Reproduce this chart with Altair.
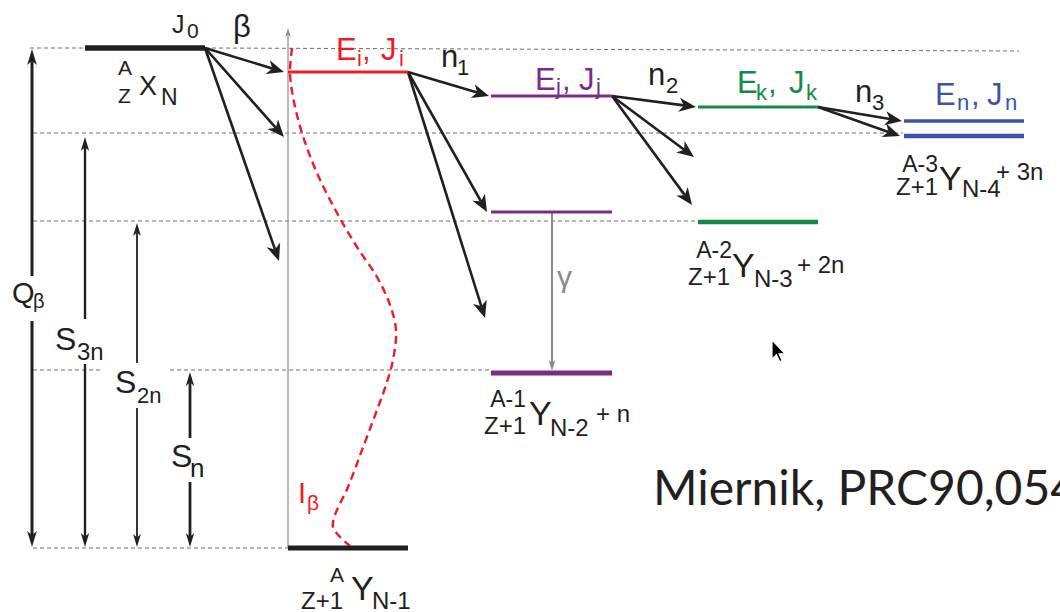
import math

import altair as alt
import pandas as pd

# ---------------------------------------------------------------------------
# Energies in arbitrary units (ground state of the beta daughter = 0)
# ---------------------------------------------------------------------------
Q_BETA = 500
S_3N = 415
S_2N = 327
S_N = 178

level_names = ["parent", "Ei", "Ej", "Ej_low", "gs_A-1", "Ek", "gs_A-2", "En", "gs_A-3", "gs_A"]
level_energies = [500, 476, 452, 336, 175, 441, 326, 427, 412, 0]
level_columns = ["X", "A", "A-1", "A-1", "A-1", "A-2", "A-2", "A-3", "A-3", "A"]

# end points of the beta branches and of the three neutron steps
beta_targets = [476, 411, 287]
n1_targets = [452, 336, 230]
n2_targets = [441, 391, 343]
n3_targets = [427, 412]
gamma_from, gamma_to = 336, 177

# beta strength distribution I_beta(E), drawn to the right of the energy axis
ib_energy = [500, 476, 451, 415, 375, 335, 301, 271, 243, 218, 188, 163, 138, 98, 61, 33, 21, 11, 2]
ib_strength = [4, 2, 5, 14, 29, 49, 69, 89, 102, 108, 105, 98, 89, 74, 60, 47, 45, 52, 62]

# ---------------------------------------------------------------------------
# Layout and style
# ---------------------------------------------------------------------------
W, H = 1060, 612
E_TOP = 548                      # energy shown at the top edge of the canvas
COLUMNS = {"X": (85, 205), "A": (288, 408), "A-1": (491, 612),
           "A-2": (698, 818), "A-3": (904, 1024)}
AXIS_X = 288

BLACK = "#231f20"
RED = "#ed1c24"
PURPLE = "#7b2c84"
GREEN = "#138a48"
BLUE = "#3b54a5"
GRAY = "#8a8a8a"
DASH_GRAY = "#6d6e71"

LEVEL_STYLE = {
    "parent": (BLACK, 5.5), "Ei": (RED, 3), "Ej": (PURPLE, 3), "Ej_low": (PURPLE, 3),
    "gs_A-1": (PURPLE, 5), "Ek": (GREEN, 3), "gs_A-2": (GREEN, 4.5),
    "En": (BLUE, 3.5), "gs_A-3": (BLUE, 4.5), "gs_A": (BLACK, 5),
}

DIAGRAM_FONT = "Liberation Sans, Arial, sans-serif"
CITE_FONT = "Lato, Open Sans, sans-serif"

# notched arrow heads, tip at the symbol origin, pointing up
HEAD_WIDE = "M0,0 L0.42,1 L0,0.72 L-0.42,1 Z"
HEAD_NARROW = "M0,0 L0.3,1 L0,0.74 L-0.3,1 Z"
CURSOR = "M0,0 L0,1.15 L0.27,0.89 L0.47,1.32 L0.62,1.25 L0.43,0.84 L0.8,0.84 Z"


def page_to_energy(y):
    return E_TOP - y


def arrow(x0, e0, x1, e1, color, width, head_len):
    """Shaft (shortened to the head notch) and head of one arrow."""
    dx, de = x1 - x0, e1 - e0
    length = math.hypot(dx, de)
    ux, ue = dx / length, de / length
    back = 0.72 * head_len
    shaft = dict(x=x0, x2=x1 - ux * back, E=e0, E2=e1 - ue * back, c=color, w=width)
    head = dict(x=x1, E=e1, ang=math.degrees(math.atan2(dx, de)) % 360,
                s=(2 * head_len) ** 2, c=color)
    return shaft, head


shafts, wide_heads, narrow_heads = [], [], []


def add_arrow(x0, e0, x1, e1, color=BLACK, width=2.6, head_len=17, wide=True):
    shaft, head = arrow(x0, e0, x1, e1, color, width, head_len)
    shafts.append(shaft)
    (wide_heads if wide else narrow_heads).append(head)


# beta branches from the parent level
px = COLUMNS["X"][1]
for i, e in enumerate(beta_targets):
    add_arrow(px, 500, COLUMNS["A"][0] - (4 if i < 2 else 9), e)

# neutron emission steps
for start_col, start_e, end_col, targets in [
    ("A", 476, "A-1", n1_targets),
    ("A-1", 452, "A-2", n2_targets),
    ("A-2", 441, "A-3", n3_targets),
]:
    x_start = COLUMNS[start_col][1]
    for j, e in enumerate(targets):
        add_arrow(x_start, start_e, COLUMNS[end_col][0] - 2 - 2 * j, e)

# gamma transition inside the A-1 nucleus
gx = sum(COLUMNS["A-1"]) / 2 + 0.5
add_arrow(gx, gamma_from, gx, gamma_to, color=GRAY, width=2, head_len=11, wide=False)

# energy axis of the beta daughter
add_arrow(AXIS_X, 0, AXIS_X, 520, color=GRAY, width=1.2, head_len=9, wide=False)

# separation-energy arrows on the left: (x, top, gap in the shaft, width, head)
separations = [
    (32, Q_BETA - 1, (227, 272), 3.0, 16),
    (85, S_3N - 4, (184, 229), 2.4, 14),
    (137, S_2N - 2, (140, 185), 1.8, 13),
    (190, S_N - 2, (66, 110), 2.8, 14),
]
for x, top, (g0, g1), w, hl in separations:
    back = 0.72 * hl
    shafts.append(dict(x=x, x2=x, E=1 + back, E2=g0, c=BLACK, w=w))
    shafts.append(dict(x=x, x2=x, E=g1, E2=top - back, c=BLACK, w=w))
    narrow_heads.append(dict(x=x, E=top, ang=0, s=(2 * hl) ** 2, c=BLACK))
    narrow_heads.append(dict(x=x, E=1, ang=180, s=(2 * hl) ** 2, c=BLACK))

# energy levels
levels = []
for name, e, col in zip(level_names, level_energies, level_columns):
    x0, x1 = COLUMNS[col]
    color, w = LEVEL_STYLE[name]
    levels.append(dict(x=x0, x2=x1, E=e, E2=e, c=color, w=w))

# thresholds drawn as dashed guides
dashed = pd.DataFrame([
    dict(x=30, x2=85, E=Q_BETA, E2=Q_BETA),
    dict(x=205, x2=1019, E=Q_BETA, E2=Q_BETA - 3),
    dict(x=33, x2=903, E=S_3N, E2=S_3N),
    dict(x=33, x2=698, E=S_2N, E2=S_2N),
    dict(x=33, x2=100, E=S_N, E2=S_N),
    dict(x=170, x2=490, E=S_N, E2=S_N),
    dict(x=33, x2=289, E=0, E2=0),
])

strength = pd.DataFrame({
    "x": [AXIS_X + v for v in ib_strength],
    "E": ib_energy,
    "order": list(range(len(ib_energy))),
})

# ---------------------------------------------------------------------------
# Text pieces: (text, x, page y of baseline, size, colour)
# ---------------------------------------------------------------------------
left_text = [
    ("J", 172, 33, 25, BLACK), ("0", 187, 38, 21, BLACK),
    ("β", 233, 37, 31, BLACK),
    ("A", 118, 75, 21, BLACK), ("Z", 118, 103, 21, BLACK),
    ("X", 139, 95, 27, BLACK), ("N", 161, 105, 23, BLACK),
    ("E", 336, 60, 31, RED), ("i", 357, 66, 22, RED), (",", 362, 60, 31, RED),
    ("J", 381, 60, 31, RED), ("i", 399, 66, 22, RED),
    ("E", 535, 90, 31, PURPLE), ("j", 556, 94, 22, PURPLE), (",", 562, 90, 31, PURPLE),
    ("J", 579, 90, 31, PURPLE), ("j", 596, 94, 22, PURPLE),
    ("E", 737, 93, 31, GREEN), ("k", 756, 100, 22, GREEN), (",", 768, 93, 31, GREEN),
    ("J", 789, 93, 31, GREEN), ("k", 806, 100, 22, GREEN),
    ("E", 935, 105, 31, BLUE), ("n", 957, 110, 22, BLUE), (",", 971, 105, 31, BLUE),
    ("J", 987, 105, 31, BLUE), ("n", 1005, 110, 22, BLUE),
    ("n", 441, 67, 31, BLACK), ("1", 457, 75, 22, BLACK),
    ("n", 648, 85, 31, BLACK), ("2", 666, 93, 22, BLACK),
    ("n", 855, 102, 31, BLACK), ("3", 872, 110, 22, BLACK),
    ("γ", 557, 287, 30, GRAY),
    ("I", 298, 503, 29, RED), ("β", 307, 510, 21, RED),
    ("Q", 12, 303, 29, BLACK), ("β", 33, 308, 20, BLACK),
    ("S", 55, 350, 32, BLACK), ("3n", 77, 360, 24, BLACK),
    ("S", 115, 393, 32, BLACK), ("2n", 137, 403, 22, BLACK),
    ("S", 171, 467, 32, BLACK), ("n", 190, 477, 26, BLACK),
    ("Y", 351, 600, 34, BLACK), ("N-1", 372, 609, 24, BLACK),
    ("Y", 529, 425, 34, BLACK), ("N-2", 550, 436, 24, BLACK), ("+ n", 596, 422, 24, BLACK),
    ("Y", 732, 277, 34, BLACK), ("N-3", 754, 287, 24, BLACK), ("+ 2n", 797, 273, 24, BLACK),
    ("Y", 939, 190, 34, BLACK), ("N-4", 962, 197, 24, BLACK), ("+ 3n", 996, 180, 24, BLACK),
]
right_text = [
    ("A", 344, 582, 21, BLACK), ("Z+1", 343, 609, 24, BLACK),
    ("A-1", 526, 407, 23, BLACK), ("Z+1", 526, 434, 24, BLACK),
    ("A-2", 732, 258, 23, BLACK), ("Z+1", 730, 285, 24, BLACK),
    ("A-3", 938, 172, 23, BLACK), ("Z+1", 938, 195, 24, BLACK),
]
citation = [("Miernik, PRC90,054", 653, 505, 48, BLACK)]


def text_frame(rows):
    return pd.DataFrame([dict(t=t, x=x, E=page_to_energy(y), s=s, c=c)
                         for t, x, y, s, c in rows])


# ---------------------------------------------------------------------------
# Chart
# ---------------------------------------------------------------------------
xs = alt.Scale(domain=[0, W], nice=False, zero=False)
ys = alt.Scale(domain=[E_TOP - H, E_TOP], nice=False, zero=False)
X = alt.X("x:Q", scale=xs, axis=None)
Y = alt.Y("E:Q", scale=ys, axis=None)
color_raw = alt.Color("c:N", scale=None, legend=None)

guides = alt.Chart(dashed).mark_rule(
    color=DASH_GRAY, strokeWidth=1, strokeDash=[4, 3]
).encode(X, alt.X2("x2:Q"), Y, alt.Y2("E2:Q"))

curve = alt.Chart(strength).mark_line(
    color=RED, strokeWidth=2.4, strokeDash=[8, 5], interpolate="catmull-rom"
).encode(X, Y, order="order:Q")


def rules(rows):
    return alt.Chart(pd.DataFrame(rows)).mark_rule(strokeCap="butt").encode(
        X, alt.X2("x2:Q"), Y, alt.Y2("E2:Q"), color_raw,
        alt.StrokeWidth("w:Q", scale=None, legend=None),
    )


def heads(rows, path):
    return alt.Chart(pd.DataFrame(rows)).mark_point(
        shape=path, filled=True, opacity=1, strokeWidth=0
    ).encode(
        X, Y, color_raw,
        alt.Angle("ang:Q", scale=None),
        alt.Size("s:Q", scale=None, legend=None),
    )


def texts(rows, align, font):
    return alt.Chart(text_frame(rows)).mark_text(
        align=align, baseline="alphabetic", font=font, clip=True
    ).encode(
        X, Y, alt.Text("t:N"), color_raw,
        alt.Size("s:Q", scale=None, legend=None),
    )


pointer = alt.Chart(pd.DataFrame([dict(x=772, E=page_to_energy(340))])).mark_point(
    shape=CURSOR, filled=True, fill="black", stroke="white", strokeWidth=1.2,
    size=1089, opacity=1
).encode(X, Y)

chart = alt.layer(
    guides,
    curve,
    rules(shafts),
    rules(levels),
    heads(wide_heads, HEAD_WIDE),
    heads(narrow_heads, HEAD_NARROW),
    texts(left_text, "left", DIAGRAM_FONT),
    texts(right_text, "right", DIAGRAM_FONT),
    texts(citation, "left", CITE_FONT),
    pointer,
).properties(
    width=W, height=H, padding=0,
    autosize=alt.AutoSizeParams(type="none"),
).configure_view(stroke=None)

chart.save("out.html", embed_options={"renderer": "svg", "actions": False})
